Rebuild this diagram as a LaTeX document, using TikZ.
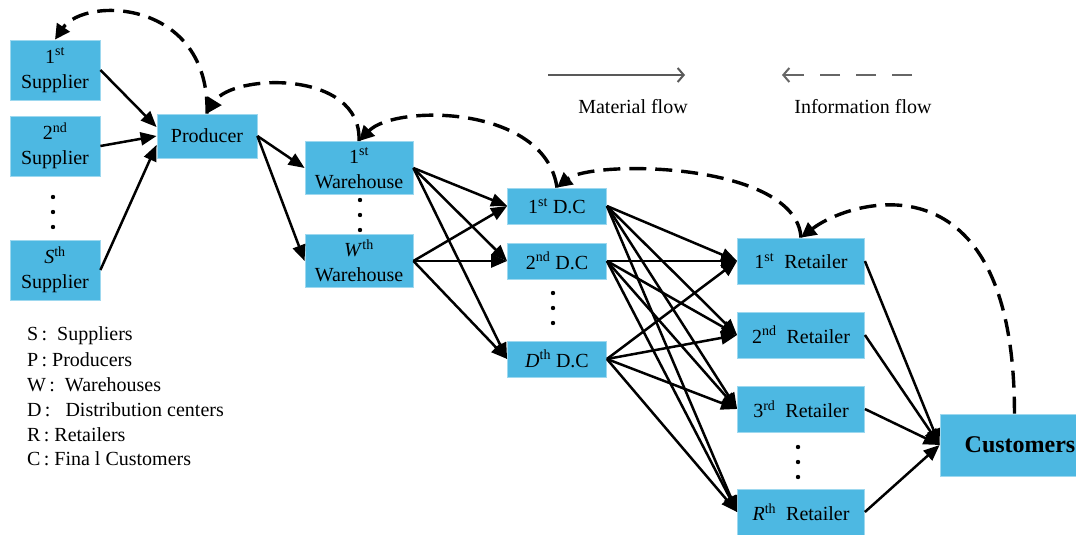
\documentclass[tikz,border=0pt]{standalone}
\usepackage{fontspec}
\setmainfont{Liberation Serif}
\newfontfamily\boxfont{Liberation Serif}
\usetikzlibrary{arrows.meta}
\definecolor{boxblue}{HTML}{4DB8E2}

\begin{document}
\begin{tikzpicture}[x=1pt,y=-1pt,
  box/.style={fill=boxblue,draw=boxblue!55!white,line width=0.8pt,align=center,inner sep=0pt,font=\boxfont\fontsize{20}{25}\selectfont},
  mat/.style={line width=2.5pt,-{Triangle[length=16pt,width=13pt]}},
  info/.style={line width=3.4pt,dash pattern=on 17pt off 9pt,-{Triangle[length=15pt,width=15pt]}},
  key/.style={anchor=west,inner sep=0pt,font=\boxfont\fontsize{20}{24}\selectfont}]
\useasboundingbox (0,0) rectangle (1076,535);

% nodes
\foreach \name/\y/\lbl in {s1/70/1\textsuperscript{st}, s2/146/2\textsuperscript{nd}, s3/270/\textit{S}\textsuperscript{th}}
  \node[box,minimum width=90pt,minimum height=60pt] (\name) at (55,\y) {\lbl\\Supplier};
\node[box,minimum width=100pt,minimum height=44pt] (prod) at (207,136) {Producer};
\foreach \name/\y/\lbl in {w1/168/1\textsuperscript{st}, w2/261/\textit{W}\textsuperscript{th}}
  \node[box,minimum width=108pt,minimum height=53pt] (\name) at (359,\y) {\lbl\\Warehouse};
\foreach \name/\y/\lbl in {d1/206/1\textsuperscript{st}, d2/261/2\textsuperscript{nd}, d3/359/\textit{D}\textsuperscript{th}}
  \node[box,minimum width=99pt,minimum height=36pt] (\name) at (557,\y) {\lbl\ D.C};
\foreach \name/\y/\lbl in {r1/261/1\textsuperscript{st}, r2/335/2\textsuperscript{nd}, r3/409/3\textsuperscript{rd}, r4/512/\textit{R}\textsuperscript{th}}
  \node[box,minimum width=127pt,minimum height=46pt] (\name) at (801,\y) {\lbl\ \ Retailer};
\node[box,minimum width=160pt,minimum height=62pt,font=\boxfont\fontsize{24}{28}\selectfont\bfseries] (cust) at (1020,445) {Customers};

\foreach \x/\y in {53/197, 360/200, 553/293, 798/447}
  \foreach \k in {0,1,2} \fill (\x,\y+15*\k) circle (2.2pt);

% material flow
\draw[mat] (s1.east) -- (prod.170);
\draw[mat] (s2.east) -- (prod.west);
\draw[mat] (s3.east) -- (prod.190);
\foreach \w in {w1,w2} \draw[mat] (prod.east) -- (\w.west);
\foreach \w in {w1,w2} \foreach \d in {d1,d2,d3} \draw[mat] (\w.east) -- (\d.west);
\foreach \d in {d1,d2,d3} \foreach \r in {r1,r2,r3,r4} \draw[mat] (\d.east) -- (\r.west);
\foreach \r in {r1,r2,r3,r4} \draw[mat] (\r.east) -- (cust.west);

% information flow
\draw[info] (prod.north) .. controls +(3,-114) and +(30,-44) .. (s1.north);
\draw[info] (w1.north) .. controls +(3,-72) and +(25,-40) .. (prod.north);
\draw[info] (d1.north) .. controls +(-12,-83) and +(36,-37) .. (w1.north);
\draw[info] (r1.north) .. controls +(-5,-76) and +(35,-28) .. (d1.north);
\draw[info] (cust.100) .. controls +(0,-264) and +(49,-38) .. (r1.north);

% legend
\coordinate (matA) at (548,75);
\coordinate (matB) at (685,75);
\draw[black!65,line width=2pt,-{Straight Barb[length=6pt,width=14pt]}] (matA) -- (matB);
\node[key,anchor=center] (matlbl) at (633,107) {Material flow};
\coordinate (infA) at (912,75);
\coordinate (infB) at (782,75);
\draw[black!60,line width=2pt,dash pattern=on 20pt off 16pt,-{Straight Barb[length=6pt,width=14pt]}] (infA) -- (infB);
\node[key,anchor=center] (inflbl) at (863,107) {Information flow};

\foreach \k/\y/\txt in {S/336/{S\,:\ \ Suppliers}, P/360/{P\,:\ Producers}, W/385/{W\,:\ \ Warehouses},
  D/410/{D\,:\ \ \ Distribution centers}, R/435/{R\,:\ Retailers}, C/459/{C\,:\ Fina l Customers}}
  \node[key] (key\k) at (27,\y) {\txt};
\end{tikzpicture}
\end{document}
